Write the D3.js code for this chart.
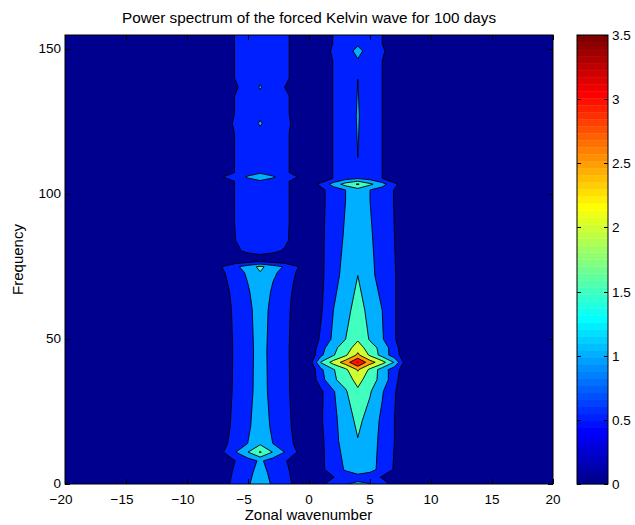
<!DOCTYPE html>
<html><head><meta charset="utf-8">
<script src="https://cdn.jsdelivr.net/npm/d3@7"></script>
<style>
body{margin:0;background:#fff}
text{font-family:"Liberation Sans",Arial,Helvetica,sans-serif;fill:#000}
</style>
</head><body>
<svg id="chart" width="635" height="525"></svg>
<script>
// ---- data ----
const levels = [0.5, 1, 1.5, 2, 2.5, 3, 3.5];
const xTicks = [-20, -15, -10, -5, 0, 5, 10, 15, 20];
const yTicks = [0, 50, 100, 150];
const cbTicks = [0, 0.5, 1, 1.5, 2, 2.5, 3, 3.5];
const xDomain = [-20, 20];
const yDomain = [0, 155];
const cDomain = [0, 3.5];

// left band (westward wavenumbers), columns k = -8 .. 0
const leftCols = [-8, -7, -6, -5, -4, -3, -2, -1, 0];
const leftFreqs = [-3, 0, 4, 8, 11, 14, 20, 32, 46, 60, 66, 70, 73, 75, 76.5, 77.5, 79, 80.5, 84, 90, 104.5, 106, 107.5, 121, 124.5, 128, 134, 137, 140, 158];
const leftRows = [
  [0, 0.39, 0.61, 0.94, 1.30, 0.94, 0.65, 0.39, 0.10],
  [0, 0.39, 0.61, 0.94, 1.30, 0.94, 0.65, 0.39, 0.10],
  [0, 0.36, 0.56, 0.86, 1.20, 0.86, 0.60, 0.36, 0.10],
  [0, 0.32, 0.51, 0.78, 1.08, 0.78, 0.54, 0.32, 0.09],
  [0.20, 0.50, 1.00, 1.50, 2.05, 1.50, 1.00, 0.50, 0.20],
  [0, 0.42, 0.66, 1.01, 1.40, 1.01, 0.70, 0.42, 0.11],
  [0, 0.38, 0.60, 0.92, 1.28, 0.92, 0.64, 0.38, 0.10],
  [0, 0.36, 0.56, 0.86, 1.20, 0.86, 0.60, 0.36, 0.10],
  [0, 0.35, 0.55, 0.85, 1.18, 0.85, 0.59, 0.35, 0.09],
  [0, 0.37, 0.57, 0.88, 1.22, 0.88, 0.61, 0.37, 0.10],
  [0, 0.39, 0.61, 0.94, 1.30, 0.94, 0.65, 0.39, 0.10],
  [0, 0.43, 0.67, 1.02, 1.42, 1.02, 0.71, 0.43, 0.11],
  [0, 0.47, 0.75, 1.10, 1.48, 1.10, 0.85, 0.47, 0.12],
  [0.15, 0.55, 0.90, 1.25, 1.62, 1.25, 0.95, 0.55, 0.20],
  [0, 0.15, 0.35, 0.50, 0.60, 0.50, 0.38, 0.15, 0],
  [0, 0.05, 0.12, 0.20, 0.25, 0.20, 0.12, 0.05, 0],
  [0, 0.10, 0.25, 0.38, 0.45, 0.38, 0.30, 0.10, 0],
  [0, 0.15, 0.40, 0.62, 0.75, 0.62, 0.45, 0.15, 0],
  [0, 0.22, 0.50, 0.82, 0.92, 0.82, 0.60, 0.28, 0.08],
  [0, 0.25, 0.53, 0.85, 0.95, 0.85, 0.62, 0.30, 0.10],
  [0, 0.25, 0.53, 0.85, 0.95, 0.85, 0.62, 0.30, 0.10],
  [0.15, 0.52, 0.80, 1.05, 1.25, 1.05, 0.85, 0.52, 0.15],
  [0, 0.25, 0.53, 0.85, 0.95, 0.85, 0.62, 0.30, 0.10],
  [0, 0.25, 0.53, 0.85, 0.95, 0.85, 0.62, 0.30, 0.10],
  [0, 0.30, 0.58, 0.90, 1.02, 0.90, 0.66, 0.33, 0.10],
  [0, 0.25, 0.53, 0.85, 0.95, 0.85, 0.62, 0.30, 0.10],
  [0, 0.25, 0.53, 0.85, 0.95, 0.85, 0.62, 0.30, 0.10],
  [0, 0.15, 0.42, 0.85, 1.02, 0.85, 0.50, 0.20, 0.05],
  [0, 0.25, 0.53, 0.85, 0.95, 0.85, 0.62, 0.30, 0.10],
  [0, 0.25, 0.53, 0.85, 0.95, 0.85, 0.62, 0.30, 0.10]
];

// right band (eastward wavenumbers), columns k = -1 .. 9
const rightCols = [-1, 0, 1, 2, 3, 4, 5, 6, 7, 8, 9];
const rightFreqs = [-3, 0, 2.4, 5, 15, 22, 32, 36, 39.5, 42, 44.5, 47, 50, 60, 72, 86, 98, 101.5, 103.5, 105.5, 108, 127, 144, 146, 149.5, 152, 158];
const rightRows = [
  [0, 0.05, 0.42, 0.68, 0.98, 1.08, 1.02, 0.70, 0.35, 0.08, 0],
  [0, 0.05, 0.42, 0.68, 0.98, 1.08, 1.02, 0.70, 0.35, 0.08, 0],
  [0, 0, 0.20, 0.48, 0.75, 0.85, 0.75, 0.45, 0.15, 0, 0],
  [0, 0.05, 0.40, 0.75, 1.05, 1.25, 1.15, 0.85, 0.45, 0.08, 0],
  [0, 0.05, 0.40, 0.85, 1.20, 1.48, 1.25, 0.85, 0.50, 0.10, 0],
  [0, 0.05, 0.45, 0.88, 1.25, 1.62, 1.30, 0.90, 0.50, 0.10, 0],
  [0, 0.06, 0.42, 0.95, 1.45, 1.90, 1.55, 1.05, 0.55, 0.10, 0],
  [0, 0.05, 0.82, 1.43, 1.70, 2.20, 1.70, 1.35, 0.65, 0.12, 0],
  [0, 0.05, 0.92, 1.46, 1.90, 2.56, 1.90, 1.26, 0.74, 0.15, 0],
  [0, 0.15, 1.55, 2.19, 2.75, 3.52, 2.72, 2.20, 1.45, 0.15, 0],
  [0, 0.05, 0.92, 1.46, 1.92, 2.60, 1.92, 1.30, 0.74, 0.15, 0],
  [0, 0.05, 0.80, 1.40, 1.70, 2.30, 1.70, 1.35, 0.68, 0.12, 0],
  [0, 0.05, 0.60, 1.10, 1.50, 1.92, 1.45, 1.05, 0.55, 0.10, 0],
  [0, 0.05, 0.45, 1.00, 1.35, 1.70, 1.35, 1.00, 0.55, 0.10, 0],
  [0, 0.05, 0.40, 0.85, 1.15, 1.50, 1.10, 0.85, 0.55, 0.10, 0],
  [0, 0.05, 0.40, 0.80, 1.05, 1.35, 1.05, 0.80, 0.50, 0.08, 0],
  [0, 0.05, 0.38, 0.75, 1.00, 1.28, 1.00, 0.78, 0.48, 0.08, 0],
  [0, 0.05, 0.38, 0.75, 1.00, 1.30, 1.00, 0.78, 0.48, 0.08, 0],
  [0, 0.20, 0.62, 1.20, 1.70, 2.05, 1.60, 1.20, 0.62, 0.15, 0],
  [0, 0, 0.15, 0.52, 0.82, 0.97, 0.82, 0.50, 0.12, 0, 0],
  [0, 0, 0.15, 0.52, 0.80, 0.99, 0.80, 0.50, 0.12, 0, 0],
  [0, 0, 0.15, 0.52, 0.80, 1.03, 0.80, 0.50, 0.12, 0, 0],
  [0, 0, 0.15, 0.52, 0.80, 0.99, 0.80, 0.50, 0.12, 0, 0],
  [0, 0, 0.15, 0.52, 0.82, 0.97, 0.82, 0.50, 0.12, 0, 0],
  [0, 0, 0.18, 0.60, 0.85, 1.10, 0.85, 0.60, 0.15, 0, 0],
  [0, 0, 0.15, 0.52, 0.85, 0.95, 0.85, 0.50, 0.12, 0, 0],
  [0, 0, 0.15, 0.52, 0.85, 0.95, 0.85, 0.50, 0.12, 0, 0]
];

// ---- jet colormap (64 entries, MATLAB style) ----
function jet(i) { // i: 0..63
  const u = [];
  for (let k = 1; k <= 16; k++) u.push(k / 16);
  for (let k = 0; k < 15; k++) u.push(1);
  for (let k = 16; k >= 1; k--) u.push(k / 16);
  const R = i + 1;
  const pick = j => (j >= 1 && j <= u.length) ? u[j - 1] : 0;
  const r = pick(R - 24), g = pick(R - 8), b = pick(R + 8);
  return d3.rgb(Math.round(r * 255), Math.round(g * 255), Math.round(b * 255)).formatHex();
}
function levelColor(v) {
  const idx = Math.min(63, Math.floor((v - cDomain[0]) / (cDomain[1] - cDomain[0]) * 64));
  return jet(idx);
}

// ---- layout ----
const svg = d3.select("#chart");
const L = 65, R = 553, T = 35, B = 484;
const x = d3.scaleLinear().domain(xDomain).range([L, R]);
const y = d3.scaleLinear().domain(yDomain).range([B, T]);

svg.append("defs").append("clipPath").attr("id", "clip")
  .append("rect").attr("x", L).attr("y", T).attr("width", R - L).attr("height", B - T);

const plot = svg.append("g").attr("clip-path", "url(#clip)");
plot.append("rect").attr("x", L).attr("y", T).attr("width", R - L).attr("height", B - T)
  .attr("fill", levelColor(0));

function drawBand(cols, freqs, rows) {
  const nx = cols.length, ny = freqs.length;
  const values = [];
  rows.forEach(r => r.forEach(v => values.push(v)));
  const colScale = d3.scaleLinear().domain(d3.range(nx)).range(cols);
  const rowScale = d3.scaleLinear().domain(d3.range(ny)).range(freqs);
  const contours = d3.contours().size([nx, ny]).thresholds(levels)(values);
  const toPath = mp => mp.coordinates.map(poly => poly.map(ring =>
      "M" + ring.map(p => x(colScale(p[0] - 0.5)).toFixed(2) + "," + y(rowScale(p[1] - 0.5)).toFixed(2)).join("L") + "Z"
    ).join("")).join("");
  plot.append("g").selectAll("path").data(contours).join("path")
    .attr("d", toPath)
    .attr("fill", d => levelColor(d.value))
    .attr("fill-rule", "evenodd")
    .attr("stroke", "#000")
    .attr("stroke-width", 0.9)
    .attr("stroke-linejoin", "miter");
}
drawBand(leftCols, leftFreqs, leftRows);
drawBand(rightCols, rightFreqs, rightRows);

// ---- axes frame and ticks ----
const tickLen = 5;
const fs = 13.5;
const axes = svg.append("g");
axes.append("rect").attr("x", L).attr("y", T).attr("width", R - L).attr("height", B - T)
  .attr("fill", "none").attr("stroke", "#000").attr("stroke-width", 1);

// width of the digit part so that negative labels hang their minus sign to the left
const probe = svg.append("text").attr("font-size", fs).attr("opacity", 0);
function textWidth(s) { probe.text(s); return probe.node().getComputedTextLength(); }

xTicks.forEach(t => {
  const px = Math.round(x(t)) + 0.5;
  axes.append("line").attr("x1", px).attr("x2", px).attr("y1", B).attr("y2", B - tickLen).attr("stroke", "#000");
  axes.append("line").attr("x1", px).attr("x2", px).attr("y1", T).attr("y2", T + tickLen).attr("stroke", "#000");
  const digits = String(Math.abs(t));
  const dw = textWidth(digits);
  axes.append("text").attr("x", x(t) + dw / 2).attr("y", B + 19.5).attr("text-anchor", "end")
    .attr("font-size", fs).text(t < 0 ? "\u2212" + digits : digits);
});
yTicks.forEach(t => {
  const py = Math.round(y(t)) + 0.5;
  axes.append("line").attr("x1", L).attr("x2", L + tickLen).attr("y1", py).attr("y2", py).attr("stroke", "#000");
  axes.append("line").attr("x1", R).attr("x2", R - tickLen).attr("y1", py).attr("y2", py).attr("stroke", "#000");
  axes.append("text").attr("x", L - 4).attr("y", y(t) + 4).attr("text-anchor", "end")
    .attr("font-size", fs).text(String(t));
});
probe.remove();

// ---- labels ----
svg.append("text").attr("x", (L + R) / 2).attr("y", 23).attr("text-anchor", "middle")
  .attr("font-size", 15.3).text("Power spectrum of the forced Kelvin wave for 100 days");
svg.append("text").attr("x", (L + R) / 2 - 0.5).attr("y", 520).attr("text-anchor", "middle")
  .attr("font-size", 15).text("Zonal wavenumber");
svg.append("text").attr("transform", `translate(23,${(T + B) / 2}) rotate(-90)`).attr("text-anchor", "middle")
  .attr("font-size", 15).text("Frequency");

// ---- colorbar ----
const CL = 577, CR = 608;
const cy = d3.scaleLinear().domain(cDomain).range([B, T]);
const cb = svg.append("g");
const bandH = (B - T) / 64;
cb.selectAll("rect.band").data(d3.range(64)).join("rect").attr("class", "band")
  .attr("x", CL).attr("width", CR - CL)
  .attr("y", i => B - (i + 1) * bandH).attr("height", bandH + 0.3)
  .attr("fill", i => jet(i));
cb.append("rect").attr("x", CL).attr("y", T).attr("width", CR - CL).attr("height", B - T)
  .attr("fill", "none").attr("stroke", "#000").attr("stroke-width", 1);
cbTicks.forEach(t => {
  const py = Math.round(cy(t)) + 0.5;
  cb.append("line").attr("x1", CL).attr("x2", CL + 4).attr("y1", py).attr("y2", py).attr("stroke", "#000");
  cb.append("line").attr("x1", CR).attr("x2", CR - 4).attr("y1", py).attr("y2", py).attr("stroke", "#000");
  cb.append("text").attr("x", CR + 4).attr("y", cy(t) + 5).attr("font-size", fs).text(String(t));
});
</script>
</body></html>
